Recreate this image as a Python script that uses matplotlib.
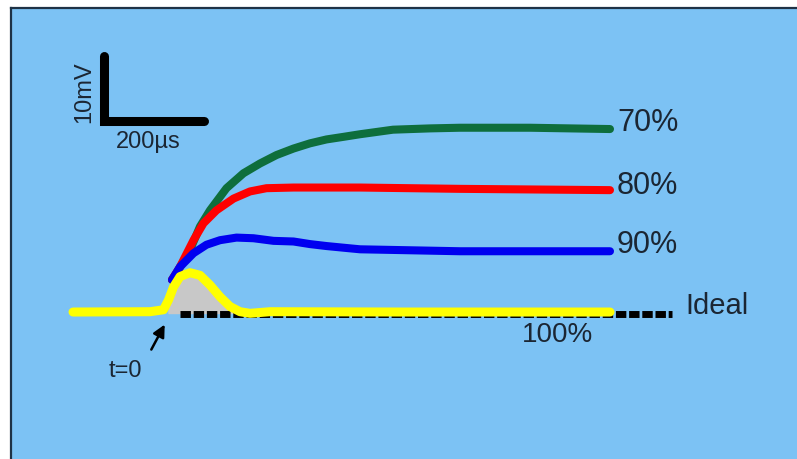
import numpy as np
import matplotlib.pyplot as plt

# --------------------------------------------------------------------#
# Data (time in microseconds, voltage in mV)
# --------------------------------------------------------------------#
green_t = [14, 23, 50, 70, 90, 123, 157, 190, 223, 257, 290, 323, 357, 390, 456, 530, 590, 730, 890]
green_v = [5.1, 6.1, 9.7, 13.3, 15.8, 19.2, 21.5, 23.0, 24.3, 25.3, 26.1, 26.7, 27.1, 27.5,
           28.2, 28.4, 28.5, 28.5, 28.3]

red_t = [14, 30, 57, 77, 103, 137, 170, 203, 257, 323, 390, 590, 890]
red_v = [5.1, 7.1, 11.2, 13.8, 15.8, 17.6, 18.7, 19.2, 19.3, 19.3, 19.3, 19.1, 18.9]

blue_t = [14, 30, 57, 83, 110, 143, 177, 217, 257, 290, 323, 363, 390, 590, 890]
blue_v = [5.1, 7.1, 9.2, 10.5, 11.2, 11.6, 11.5, 11.1, 11.0, 10.6, 10.3, 10.0, 9.8, 9.5, 9.5]

yellow_t = [-184, -30, -3, 7, 17, 30, 50, 70, 90, 110, 130, 150, 170, 210, 470, 890]
yellow_v = [0.15, 0.2, 0.5, 2.0, 4.0, 5.6, 6.2, 5.8, 4.3, 2.5, 1.0, 0.2, -0.05, 0.2, 0.15, 0.15]

ideal_t = [30, 1014]
ideal_v = [-0.1, -0.1]

labels = ["70%", "80%", "90%"]
label_v = [29.2, 19.5, 10.5]

SCALE_T = 200  # us
SCALE_V = 10   # mV
scale_corner = (-122, 29.5)

# --------------------------------------------------------------------#
# Figure
# --------------------------------------------------------------------#
plt.rcParams["font.family"] = ["Liberation Sans", "DejaVu Sans"]
BG = "#7cc2f4"
TXT = "#1b2633"

fig = plt.figure(figsize=(7.97, 4.59), dpi=100)
ax = fig.add_axes([11 / 797, 0, 1 - 11 / 797, 1 - 8 / 459])
ax.set_facecolor(BG)
ax.set_xlim(-308, 1264)
ax.set_ylim(-22.46, 46.92)
ax.set_xticks([])
ax.set_yticks([])
for side in ["right", "bottom"]:
    ax.spines[side].set_visible(False)
for side in ["left", "top"]:
    ax.spines[side].set_color("#1e3246")
    ax.spines[side].set_linewidth(1.6)

lw = 5.8
ax.plot(green_t, green_v, color="#0e6e3c", lw=lw, solid_capstyle="round", solid_joinstyle="round")
ax.plot(red_t, red_v, color="#ff0000", lw=lw, solid_capstyle="round", solid_joinstyle="round")
ax.plot(blue_t, blue_v, color="#0000f0", lw=lw, solid_capstyle="round", solid_joinstyle="round")

# gray area under the yellow overshoot
yt = np.array(yellow_t, dtype=float)
yv = np.array(yellow_v, dtype=float)
mask = (yt >= 7) & (yt <= 150)
ax.fill_between(yt[mask], yv[mask], 0, color="#c8c8c8", zorder=2)

ax.plot(ideal_t, ideal_v, color="black", lw=5.0, ls=(0, (1.5, 0.4)), zorder=3)
ax.plot(yellow_t, yellow_v, color="#ffff00", lw=6.5, solid_capstyle="round",
        solid_joinstyle="round", zorder=4)

for txt, v in zip(labels, label_v):
    ax.text(904, v, txt, fontsize=22, color=TXT, va="center", ha="left")
ax.text(1040, 1.1, "Ideal", fontsize=21, color=TXT, va="center", ha="left")
ax.text(714, -3.4, "100%", fontsize=20, color=TXT, va="center", ha="left")

# scale bar
cx, cy = scale_corner
ax.plot([cx, cx, cx + SCALE_T], [cy + SCALE_V, cy, cy], color="black", lw=6.5,
        solid_capstyle="round", solid_joinstyle="miter")
ax.text(-162, 34, "10mV", fontsize=17, color=TXT, rotation=90, va="center", ha="center")
ax.text(-34, 26.3, "200\u00b5s", fontsize=17, color=TXT, va="center", ha="center")

# t=0 marker
ax.annotate("", xy=(2, -1.4), xytext=(-30, -6.0),
            arrowprops=dict(arrowstyle="-|>", color="black", lw=1.8, mutation_scale=18))
ax.text(-80, -8.9, "t=0", fontsize=17, color=TXT, va="center", ha="center")

fig.savefig("out.png", dpi=100, facecolor="white")
